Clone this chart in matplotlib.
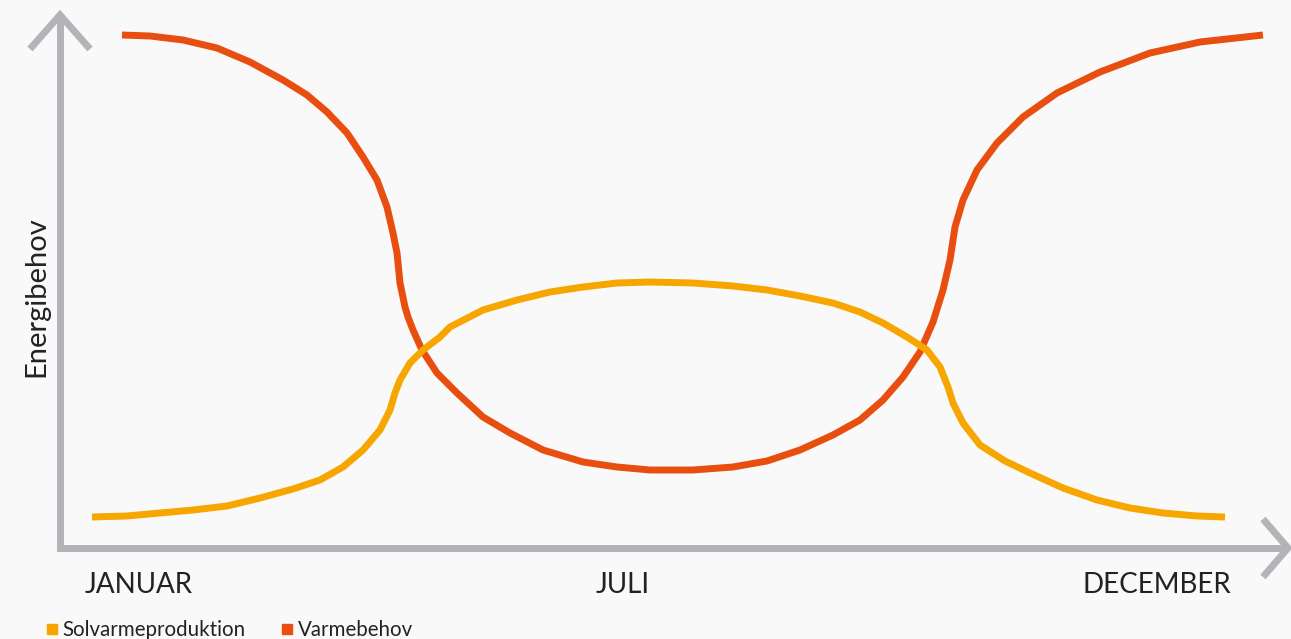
import matplotlib
matplotlib.use("Agg")
import matplotlib.pyplot as plt
from matplotlib.lines import Line2D

# ---- data (x in months-ish units, y = relative energy) ----
varme_x = [0.62, 0.90, 1.23, 1.57, 1.90, 2.23, 2.47, 2.67, 2.87, 3.03, 3.17, 3.27, 3.33,
           3.37, 3.40, 3.45, 3.48, 3.53, 3.62, 3.77, 3.97, 4.23, 4.50, 4.83, 5.23, 5.57,
           5.90, 6.33, 6.73, 7.07, 7.40, 7.73, 8.00, 8.23, 8.43, 8.60, 8.73, 8.83, 8.90,
           8.95, 9.03, 9.17, 9.37, 9.63, 9.97, 10.40, 10.90, 11.40, 12.03]
varme_y = [102.6, 102.4, 101.6, 100.0, 97.2, 93.6, 90.6, 87.2, 83.0, 78.2, 73.6, 68.2, 63.0,
           59.0, 53.0, 48.2, 46.2, 43.6, 39.6, 35.0, 31.0, 26.2, 23.0, 19.6, 17.2, 16.2,
           15.6, 15.6, 16.2, 17.4, 19.6, 22.6, 25.6, 29.6, 34.2, 39.2, 45.2, 51.6, 57.6,
           64.2, 69.6, 75.6, 81.0, 86.2, 91.0, 95.2, 99.0, 101.2, 102.6]

sol_x = [0.32, 0.67, 1.00, 1.33, 1.67, 2.00, 2.33, 2.60, 2.83, 3.03, 3.20, 3.30, 3.35,
         3.40, 3.50, 3.63, 3.80, 3.90, 4.23, 4.57, 4.90, 5.23, 5.57, 5.90, 6.33, 6.73,
         7.07, 7.40, 7.73, 8.00, 8.23, 8.47, 8.67, 8.80, 8.88, 8.93, 9.03, 9.20, 9.45,
         9.70, 10.03, 10.37, 10.70, 11.03, 11.37, 11.65]
sol_y = [6.2, 6.4, 7.0, 7.6, 8.4, 10.0, 11.8, 13.6, 16.2, 19.6, 23.6, 27.6, 31.0,
         33.6, 37.0, 39.6, 42.2, 44.2, 47.6, 49.6, 51.2, 52.2, 53.0, 53.2, 53.0, 52.4,
         51.6, 50.4, 49.0, 47.2, 45.0, 42.2, 39.6, 36.2, 32.2, 29.0, 25.0, 20.6, 17.4,
         15.0, 12.0, 9.6, 8.0, 7.0, 6.4, 6.2]

month_labels = ["JANUAR", "JULI", "DECEMBER"]
month_pos = [0.79, 5.63, 10.97]
series_names = ["Solvarmeproduktion", "Varmebehov"]
y_label = "Energibehov"

# ---- style ----
BG = "#f9f9f9"
RED = "#e84e0f"
YEL = "#f7a600"
AX = "#b4b4b8"
TXT = "#222222"
FONT = ["Lato", "DejaVu Sans"]

fig = plt.figure(figsize=(12.91, 6.39), dpi=100, facecolor=BG)
ax = fig.add_axes([0, 0, 1, 1])
ax.set_facecolor(BG)
ax.set_xlim(-0.60, 12.31)
ax.set_ylim(-18.2, 109.6)
ax.axis("off")

# axes with chevron arrowheads
axkw = dict(color=AX, lw=5, solid_capstyle="butt", solid_joinstyle="miter")
ax.plot([0, 0], [-0.6, 106.0], **axkw)
ax.plot([-0.03, 12.25], [0, 0], **axkw)
ax.plot([-0.30, 0, 0.30], [99.8, 106.6, 99.8], **axkw)
ax.plot([12.03, 12.28, 12.03], [5.8, 0, -5.8], **axkw)

# curves
ax.plot(varme_x, varme_y, color=RED, lw=5, solid_capstyle="butt", solid_joinstyle="round")
ax.plot(sol_x, sol_y, color=YEL, lw=5, solid_capstyle="butt", solid_joinstyle="round")

# month labels
for p, lab in zip(month_pos, month_labels):
    ax.text(p, -7.4, lab, ha="center", va="center", fontsize=20, color=TXT,
            family=FONT, fontweight="normal")

ax.text(-0.24, 50.2, y_label, rotation=90, ha="center", va="center", fontsize=21,
        color=TXT, family=FONT, fontweight="normal")

handles = [Line2D([], [], marker="s", ls="none", color=YEL, markersize=7.5),
           Line2D([], [], marker="s", ls="none", color=RED, markersize=7.5)]
leg = ax.legend(handles, series_names, loc="center left",
                bbox_to_anchor=(0.0353, 0.014), ncol=2, frameon=False,
                handlelength=0.6, handletextpad=0.2, columnspacing=1.75,
                borderaxespad=0, borderpad=0,
                prop=dict(family=FONT, size=14.8, weight="normal"))
for t in leg.get_texts():
    t.set_color(TXT)

fig.savefig("out.png", dpi=100, facecolor=BG)
